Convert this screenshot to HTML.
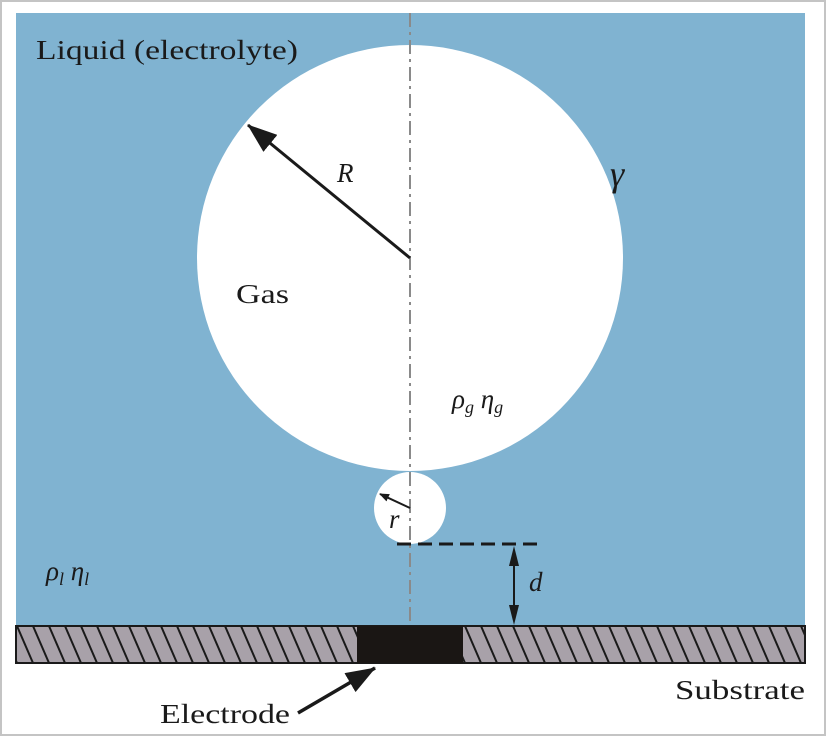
<!DOCTYPE html>
<html><head><meta charset="utf-8"><style>
html,body{margin:0;padding:0;background:#fff}
svg{display:block}
text{font-family:"Liberation Serif",serif;fill:#1a1a1a}
</style></head><body>
<svg width="826" height="736" viewBox="0 0 826 736">
<defs>
<pattern id="hatch" patternUnits="userSpaceOnUse" width="16" height="37" x="17" y="626">
<rect width="16" height="37" fill="#a8a1a9"/>
<line x1="0" y1="0" x2="16" y2="37" stroke="#1a1a1a" stroke-width="2"/>
<line x1="-16" y1="0" x2="0" y2="37" stroke="#1a1a1a" stroke-width="2"/>
<line x1="16" y1="0" x2="32" y2="37" stroke="#1a1a1a" stroke-width="2"/>
</pattern>
<marker id="ah" markerWidth="10" markerHeight="8" refX="9" refY="4" orient="auto" markerUnits="userSpaceOnUse"><path d="M0,0 L10,4 L0,8 Z" fill="#1a1a1a"/></marker>
<marker id="big" markerWidth="30" markerHeight="22" refX="29" refY="11" orient="auto" markerUnits="userSpaceOnUse"><path d="M0,0 L30,11 L0,22 Z" fill="#1a1a1a"/></marker>
</defs>
<rect x="1" y="1" width="824" height="734" fill="#fff" stroke="#c4c4c4" stroke-width="2"/>
<rect x="16" y="13" width="789" height="613" fill="#80b3d1"/>
<circle cx="410" cy="258" r="213" fill="#fff"/>
<circle cx="410" cy="508" r="36" fill="#fff"/>
<line x1="410" y1="13" x2="410" y2="626" stroke="#8a8a8a" stroke-width="2" stroke-dasharray="14,5,3,5"/>
<line x1="410" y1="258" x2="248" y2="125" stroke="#1a1a1a" stroke-width="3" marker-end="url(#big)"/>
<line x1="410" y1="508" x2="380" y2="494" stroke="#1a1a1a" stroke-width="2" marker-end="url(#ah)"/>
<line x1="397" y1="544" x2="542" y2="544" stroke="#1a1a1a" stroke-width="3" stroke-dasharray="14,7"/>
<line x1="514" y1="558" x2="514" y2="612" stroke="#1a1a1a" stroke-width="2"/>
<path d="M514,546 L509,566 L519,566 Z M514,625 L509,605 L519,605 Z" fill="#1a1a1a"/>
<rect x="16" y="626" width="789" height="37" fill="url(#hatch)" stroke="#1a1a1a" stroke-width="2"/>
<rect x="357" y="626" width="106" height="37" fill="#1a1614"/>
<line x1="298" y1="713" x2="375" y2="668" stroke="#1a1a1a" stroke-width="3.5" marker-end="url(#big)"/>
<text x="36" y="59" font-size="27" textLength="262" lengthAdjust="spacingAndGlyphs">Liquid (electrolyte)</text>
<text x="337" y="182" font-size="27" font-style="italic">R</text>
<text x="610" y="186" font-size="36" font-style="italic">γ</text>
<text x="236" y="303" font-size="27" textLength="53" lengthAdjust="spacingAndGlyphs">Gas</text>
<text x="452" y="408" font-size="27" font-style="italic">ρ<tspan font-size="18" dy="5">g</tspan><tspan dy="-5"> η</tspan><tspan font-size="18" dy="5">g</tspan></text>
<text x="389" y="528" font-size="27" font-style="italic">r</text>
<text x="529" y="591" font-size="27" font-style="italic">d</text>
<text x="46" y="580" font-size="27" font-style="italic">ρ<tspan font-size="18" dy="5">l</tspan><tspan dy="-5"> η</tspan><tspan font-size="18" dy="5">l</tspan></text>
<text x="675" y="699" font-size="27" textLength="130" lengthAdjust="spacingAndGlyphs">Substrate</text>
<text x="160" y="723" font-size="27" textLength="130" lengthAdjust="spacingAndGlyphs">Electrode</text>
</svg>
</body></html>
